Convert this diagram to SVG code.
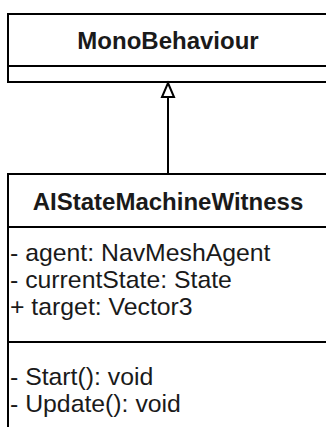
<svg xmlns="http://www.w3.org/2000/svg" width="326" height="427" viewBox="0 0 326 427">
  <defs>
    <style>
      .box { fill: #ffffff; stroke: #000000; stroke-width: 2; }
      .sep { stroke: #000000; stroke-width: 2; fill: none; }
      .title { font-family: "Liberation Sans", Arial, sans-serif; font-size: 24px; font-weight: bold; fill: #1a1a1a; text-anchor: middle; }
      .member { font-family: "Liberation Sans", Arial, sans-serif; font-size: 24.8px; fill: #1a1a1a; }
      .edge { stroke: #000000; stroke-width: 2; fill: none; }
      .head { fill: #ffffff; stroke: #000000; stroke-width: 2; stroke-linejoin: miter; }
    </style>
  </defs>
  <rect width="326" height="427" fill="#ffffff"/>

  <!-- Base class -->
  <g id="MonoBehaviour">
    <rect class="box" x="8" y="14" width="320" height="68"/>
    <line class="sep" x1="8" y1="66" x2="328" y2="66"/>
    <text class="title" x="168" y="48.5">MonoBehaviour</text>
  </g>

  <!-- Derived class -->
  <g id="AIStateMachineWitness">
    <rect class="box" x="8" y="174" width="320" height="300"/>
    <line class="sep" x1="8" y1="227" x2="328" y2="227"/>
    <line class="sep" x1="8" y1="342" x2="328" y2="342"/>
    <text class="title" x="168" y="209.5">AIStateMachineWitness</text>
    <text class="member" x="10" y="261">- agent: NavMeshAgent</text>
    <text class="member" x="10" y="288">- currentState: State</text>
    <text class="member" x="10" y="315">+ target: Vector3</text>
    <text class="member" x="10" y="385">- Start(): void</text>
    <text class="member" x="10" y="412">- Update(): void</text>
  </g>

  <!-- Generalization -->
  <g id="connectors">
    <line class="edge" x1="168" y1="174" x2="168" y2="97"/>
    <path class="head" d="M168 83 L174 97 L162 97 Z"/>
  </g>
</svg>
